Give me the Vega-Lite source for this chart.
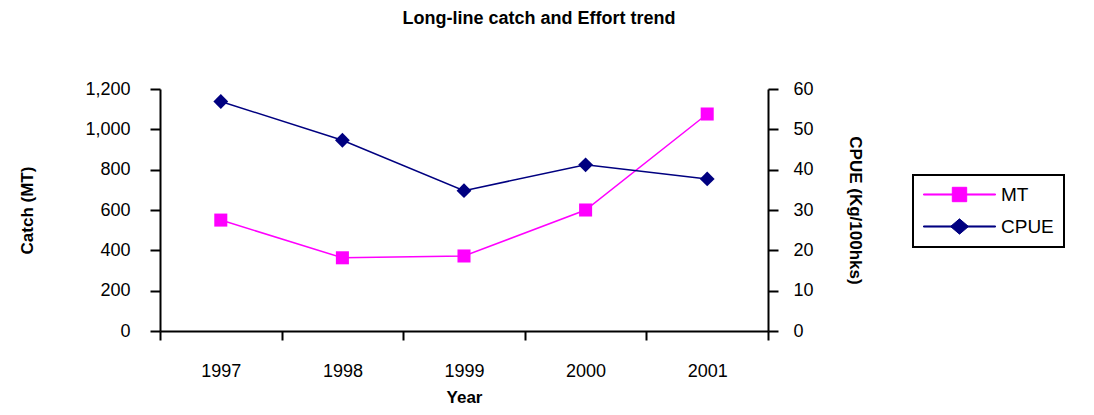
{
  "$schema": "https://vega.github.io/schema/vega-lite/v6.json",
  "width": 608,
  "height": 242,
  "autosize": {"type": "none"},
  "padding": {"left": 160, "top": 89, "right": 326, "bottom": 84},
  "background": "white",
  "title": {
    "text": "Long-line catch and Effort trend",
    "font": "Liberation Sans",
    "fontSize": 18,
    "fontWeight": "bold",
    "color": "black",
    "anchor": "middle",
    "frame": "group",
    "dx": 75,
    "offset": 52
  },
  "data": {
    "values": [
      {"year": 1997, "series": "MT", "value": 550},
      {"year": 1998, "series": "MT", "value": 363},
      {"year": 1999, "series": "MT", "value": 372},
      {"year": 2000, "series": "MT", "value": 600},
      {"year": 2001, "series": "MT", "value": 1076},
      {"year": 1997, "series": "CPUE", "value": 56.9},
      {"year": 1998, "series": "CPUE", "value": 47.3},
      {"year": 1999, "series": "CPUE", "value": 34.8},
      {"year": 2000, "series": "CPUE", "value": 41.2},
      {"year": 2001, "series": "CPUE", "value": 37.7}
    ]
  },
  "encoding": {
    "x": {
      "field": "year",
      "type": "quantitative",
      "title": "Year",
      "scale": {"domain": [1996.5, 2001.5], "nice": false, "zero": false},
      "axis": {
        "values": [1996.5, 1997, 1997.5, 1998, 1998.5, 1999, 1999.5, 2000, 2000.5, 2001, 2001.5],
        "labelExpr": "datum.value % 1 == 0 ? '' + datum.value : ''",
        "tickOpacity": {"condition": {"test": "datum.value % 1 == 0", "value": 0}, "value": 1},
        "grid": false,
        "labelOverlap": false,
        "labelBound": false,
        "labelFlush": false,
        "tickSize": 9,
        "labelPadding": 22,
        "titlePadding": 9
      }
    }
  },
  "layer": [
    {
      "transform": [{"filter": "datum.series == 'MT'"}],
      "encoding": {
        "y": {
          "field": "value",
          "type": "quantitative",
          "title": "Catch (MT)",
          "scale": {"domain": [0, 1200], "nice": false},
          "axis": {
            "orient": "left",
            "values": [0, 200, 400, 600, 800, 1000, 1200],
            "format": ",d",
            "grid": false,
            "tickSize": 10,
            "labelPadding": 20,
            "titlePadding": 48
          }
        }
      },
      "layer": [
        {
          "mark": {"type": "line", "strokeWidth": 1.5},
          "encoding": {
            "color": {
              "field": "series",
              "type": "nominal",
              "scale": {"domain": ["MT", "CPUE"], "range": ["#FF00FF", "#000080"]},
              "legend": {
                "encode": {
                  "symbols": {
                    "update": {
                      "shape": {"signal": "datum.value == 'MT' ? 'M-1,-0.06H7V0.06H-1Z M2.2,-0.8H3.8V0.8H2.2Z' : 'M-1,-0.06H7V0.06H-1Z M3,-0.85L4,0L3,0.85L2,0Z'"},
                      "fill": {"signal": "datum.value == 'MT' ? '#FF00FF' : '#000080'"},
                      "stroke": {"signal": "datum.value == 'MT' ? '#FF00FF' : '#000080'"},
                      "strokeWidth": {"value": 1}
                    }
                  }
                }
              }
            }
          }
        },
        {
          "mark": {"type": "point", "shape": "square", "filled": true, "opacity": 1, "size": 170, "color": "#FF00FF"}
        }
      ]
    },
    {
      "transform": [{"filter": "datum.series == 'CPUE'"}],
      "encoding": {
        "y": {
          "field": "value",
          "type": "quantitative",
          "title": "CPUE (Kg/100hks)",
          "scale": {"domain": [0, 60], "nice": false},
          "axis": {
            "orient": "right",
            "values": [0, 10, 20, 30, 40, 50, 60],
            "grid": false,
            "tickSize": 10,
            "labelPadding": 15,
            "titlePadding": 32
          }
        }
      },
      "layer": [
        {
          "mark": {"type": "line", "strokeWidth": 1.5},
          "encoding": {
            "color": {
              "field": "series",
              "type": "nominal",
              "scale": {"domain": ["MT", "CPUE"], "range": ["#FF00FF", "#000080"]}
            }
          }
        },
        {
          "mark": {"type": "point", "shape": "diamond", "filled": true, "opacity": 1, "size": 220, "color": "#000080"}
        }
      ]
    }
  ],
  "resolve": {"scale": {"y": "independent"}},
  "config": {
    "view": {"stroke": null},
    "font": "Liberation Sans",
    "axis": {
      "domainColor": "black",
      "domainWidth": 2,
      "tickColor": "black",
      "tickWidth": 2,
      "labelFont": "Liberation Sans",
      "labelFontSize": 18,
      "labelColor": "black",
      "titleFont": "Liberation Sans",
      "titleFontSize": 17,
      "titleFontWeight": "bold",
      "titleColor": "black"
    },
    "legend": {
      "orient": "none",
      "legendX": 753,
      "legendY": 86,
      "title": null,
      "strokeColor": "black",
      "strokeWidth": 2,
      "padding": 10,
      "labelFont": "Liberation Sans",
      "labelFontSize": 19,
      "labelColor": "black",
      "labelOffset": 59,
      "symbolSize": 324,
      "rowPadding": 11,
      "symbolType": "M-1,-0.06H7V0.06H-1Z",
      "symbolStrokeWidth": 1
    }
  }
}
